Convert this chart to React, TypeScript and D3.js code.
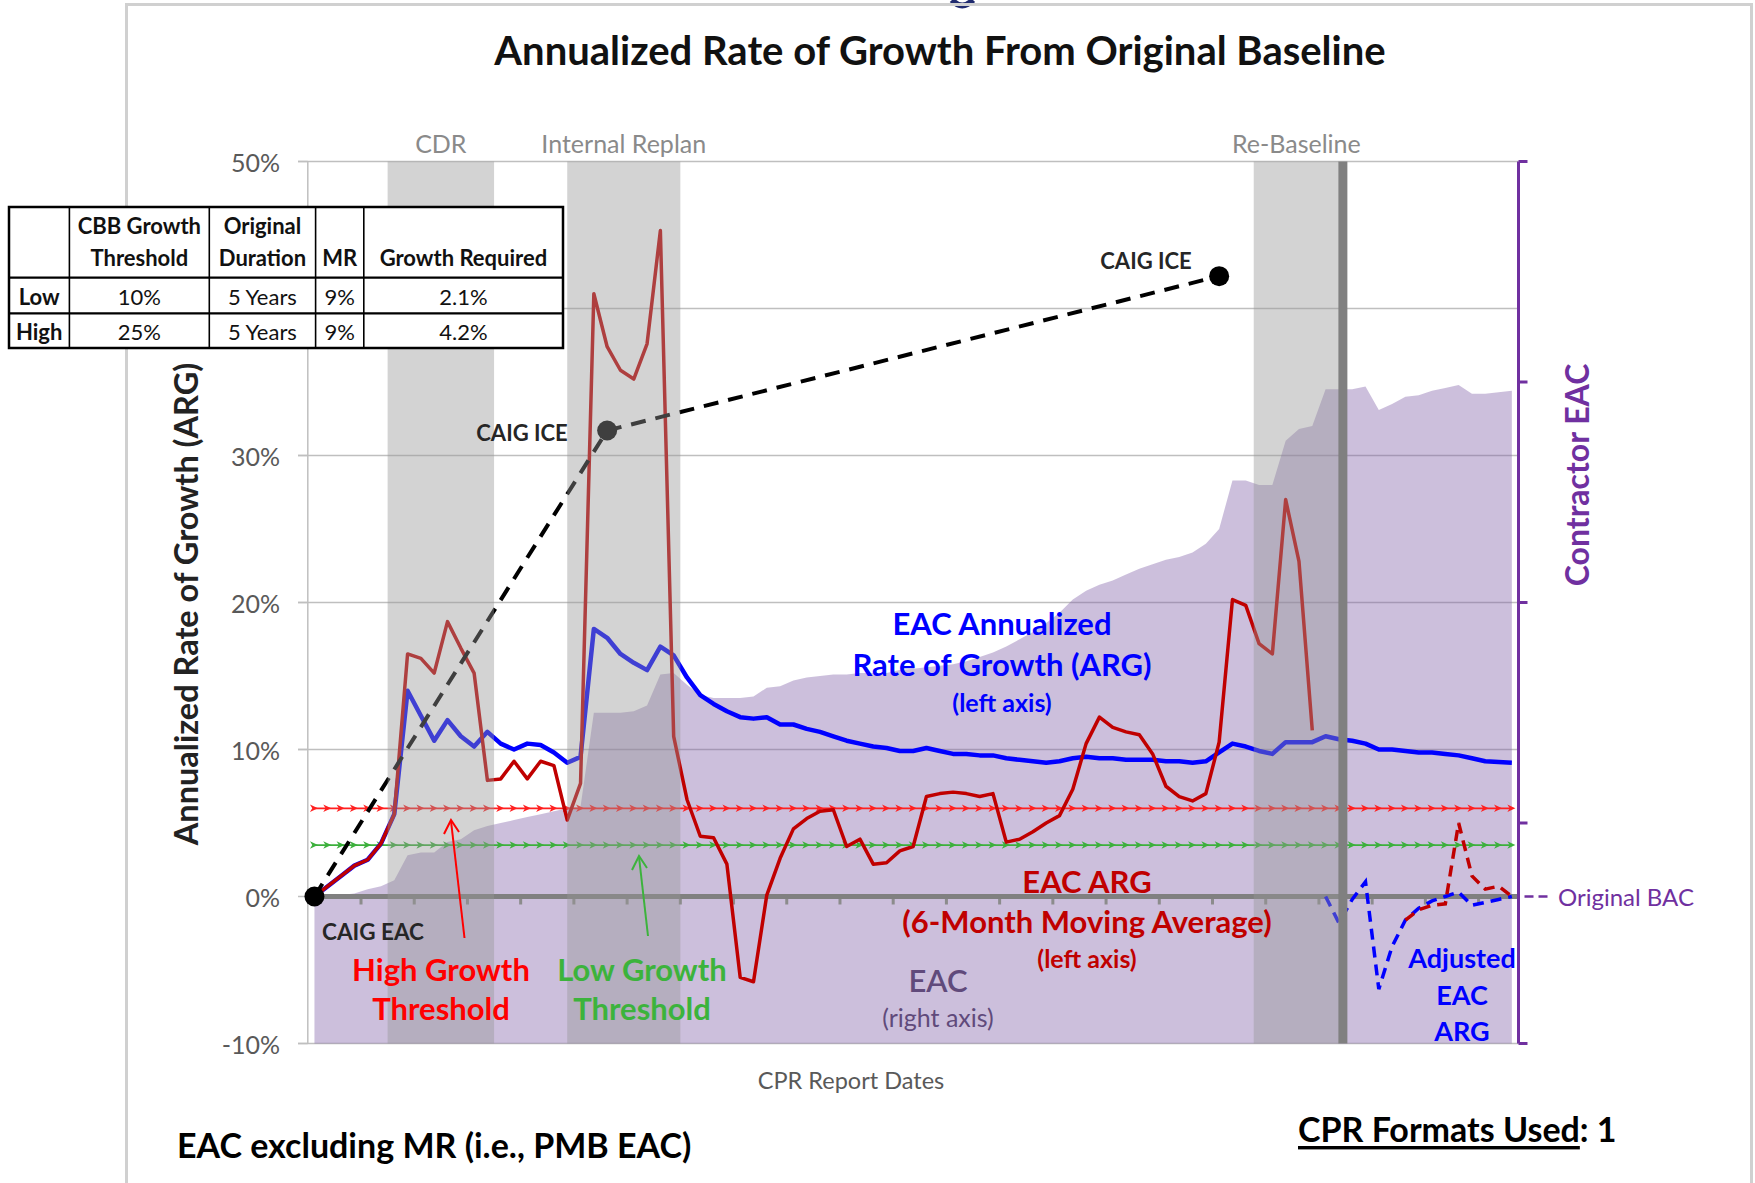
import React from 'react';
import * as d3 from 'd3';

// CPR report sequence (monthly reports, 91 in total)
const reports = d3.range(91);

// EAC Annualized Rate of Growth, % (left axis)
const eacArg = [
  0, 0.7, 1.4, 2.1, 2.5, 3.6, 5.6, 14.0, 12.3, 10.6,
  12.0, 10.9, 10.2, 11.2, 10.4, 10.0, 10.4, 10.3, 9.8, 9.1,
  9.5, 18.2, 17.6, 16.5, 15.9, 15.4, 17.0, 16.4, 14.9, 13.7,
  13.1, 12.6, 12.2, 12.1, 12.2, 11.7, 11.7, 11.4, 11.2, 10.9,
  10.6, 10.4, 10.2, 10.1, 9.9, 9.9, 10.1, 9.9, 9.7, 9.7,
  9.6, 9.6, 9.4, 9.3, 9.2, 9.1, 9.2, 9.4, 9.5, 9.4,
  9.4, 9.3, 9.3, 9.3, 9.2, 9.2, 9.1, 9.2, 9.8, 10.4,
  10.2, 9.9, 9.7, 10.5, 10.5, 10.5, 10.9, 10.7, 10.6, 10.4,
  10.0, 10.0, 9.9, 9.8, 9.8, 9.7, 9.6, 9.4, 9.2, 9.15,
  9.1,
];

// EAC ARG, 6-month moving average, % (left axis) — ends before re-baseline
const eacArg6mo = [
  0, 0.7, 1.4, 2.1, 2.5, 3.6, 5.6, 16.5, 16.2, 15.2,
  18.7, 16.9, 15.2, 7.9, 8.0, 9.2, 8.0, 9.2, 8.9, 5.2,
  7.7, 41.0, 37.4, 35.8, 35.2, 37.6, 45.3, 10.9, 6.6, 4.1,
  4.0, 2.2, -5.5, -5.8, 0.1, 2.6, 4.6, 5.3, 5.8, 5.9,
  3.4, 3.9, 2.2, 2.3, 3.1, 3.4, 6.8, 7.0, 7.1, 7.0,
  6.8, 7.0, 3.7, 3.9, 4.4, 5.0, 5.5, 7.3, 10.4, 12.2,
  11.5, 11.2, 11.0, 9.7, 7.5, 6.8, 6.5, 7.0, 10.5, 20.2,
  19.8, 17.2, 16.5, 27.0, 22.8, 11.3,
];

// Adjusted EAC ARG after re-baseline (dashed), starting at report 76
const adjustedStart = 76;
const adjustedArg = [0.0, -1.8, -0.2, 1.0, -6.3, -3.4, -1.6, -0.8, -0.3, 0.0, 0.3, -0.6, -0.4, -0.2, 0.0];
// Adjusted 6-month moving average (dashed red), starting at report 82
const adjusted6moStart = 82;
const adjustedArg6mo = [-1.6, -0.9, -0.6, -0.5, 5.0, 1.4, 0.5, 0.7, 0.0];

// Contractor EAC, $M (right axis)
const contractorEac = [
  500, 500.5, 501, 502, 505, 507, 511, 528, 530, 530,
  537, 539, 545, 548, 550, 552, 554, 556, 558, 560,
  561, 625, 625, 625, 626, 630, 651, 652, 644, 637,
  635, 635, 635, 636, 642, 643, 647, 649, 650, 651,
  651, 652, 652, 652, 654, 655, 656, 657, 658, 660,
  663, 666, 670, 675, 680, 686, 693, 702, 708, 712,
  715, 719, 723, 726, 729, 731, 734, 740, 750, 783,
  783, 780, 780, 810, 818, 820, 845, 845, 845, 847,
  831, 835, 840, 841, 844, 846, 848, 842, 842, 843,
  844,
];
const originalBac = 500;

// CAIG estimates
const caigAt = [0, 22, 68];
const caigArg = [0, 31.7, 42.2];
const caigNames = ['CAIG EAC', 'CAIG ICE', 'CAIG ICE'];

const highThreshold = 6.0;
const lowThreshold = 3.5;

const leftTicks = [-10, 0, 10, 20, 30, 40, 50];
// the 40% label sits under the table in the original, so it is not printed
const leftTickLabels = [-10, 0, 10, 20, 30, 50];
const rightTicks = [400, 550, 700, 850, 1000];

const eventNames = ['CDR', 'Internal Replan', 'Re-Baseline'];
const eventFrom = [5.5, 19.0, 70.6];
const eventTo = [13.5, 27.5, 77.0];
const rebaselineAt = 77.3;

const tableHead1 = ['', 'CBB Growth', 'Original', '', ''];
const tableHead2 = ['', 'Threshold', 'Duration', 'MR', 'Growth Required'];
const tableRows = [
  ['Low', '10%', '5 Years', '9%', '2.1%'],
  ['High', '25%', '5 Years', '9%', '4.2%'],
];

const FONT = 'Lato, "Open Sans", sans-serif';

const App = () => {
  const W = 1755;
  const H = 1183;
  const left = 307.8;
  const right = 1518.5;
  const top = 161.5;
  const bottom = 1043.5;

  const x = d3.scaleLinear().domain([-0.5, reports.length - 0.5]).range([left, right]);
  const y = d3.scaleLinear().domain([-10, 50]).range([bottom, top]);
  const yR = d3.scaleLinear().domain([400, 1000]).range([bottom, top]);

  const area = d3
    .area<number>()
    .x((d, i) => x(i))
    .y0(bottom)
    .y1((d) => yR(d));

  const line = d3
    .line<number>()
    .x((d, i) => x(i))
    .y((d) => y(d));

  const lineFrom = (start: number) =>
    d3
      .line<number>()
      .x((d, i) => x(start + i))
      .y((d) => y(d));

  const caigLine = d3
    .line<number>()
    .x((d, i) => x(caigAt[i]))
    .y((d) => y(d));

  const xTicks = d3.range(4, reports.length, 4).map((k) => x(k - 0.5));

  const marker = 'M-4.5,-3.8 L3.5,0 L-4.5,3.8 L-2.2,0 Z';

  // table geometry
  const colX = [9, 69.4, 209.3, 315.6, 363.8, 563];
  const rowY = [207, 277.6, 313.4, 348];

  const bigAnno = { fontFamily: FONT, fontWeight: 700, fontSize: 31, textAnchor: 'middle' as const };
  const smallAnno = { fontFamily: FONT, fontWeight: 700, fontSize: 25, textAnchor: 'middle' as const };

  return (
    <svg width={W} height={H} style={{ position: 'absolute', left: 0, top: 0, background: '#fff' }}>
      <rect x={0} y={0} width={W} height={H} fill="#fff" />
      <path d="M952,0 Q962,11 973,0" fill="none" stroke="#1f2a6e" strokeWidth={6} />
      <rect x={126.5} y={4.5} width={1625} height={1200} fill="none" stroke="#d0d0d0" strokeWidth={3} />

      <text x={940} y={50} fontFamily={FONT} fontWeight={700} fontSize={40} textAnchor="middle" dominantBaseline="central" fill="#111">
        Annualized Rate of Growth From Original Baseline
      </text>

      {/* gridlines */}
      {leftTicks.filter((t) => t !== 0).map((t) => (
        <line key={t} x1={298} x2={right} y1={y(t)} y2={y(t)} stroke="#bfbfbf" strokeWidth={1.5} />
      ))}
      {leftTicks.map((t) => (
        <line key={'lt' + t} x1={298} x2={left} y1={y(t)} y2={y(t)} stroke="#bfbfbf" strokeWidth={1.5} />
      ))}
      <line x1={left} x2={left} y1={top} y2={bottom} stroke="#bfbfbf" strokeWidth={1.5} />

      {/* EAC area (right axis) */}
      <path d={area(contractorEac) || ''} fill="rgb(128,96,168)" fillOpacity={0.4} />

      {/* 0% axis */}
      {xTicks.map((tx, i) => (
        <line key={'xt' + i} x1={tx} x2={tx} y1={y(0)} y2={y(0) + 8} stroke="#8c8c8c" strokeWidth={3} />
      ))}
      <line x1={left} x2={right} y1={y(0)} y2={y(0)} stroke="#808080" strokeWidth={5} />

      {/* thresholds */}
      <line x1={x(0)} x2={x(reports.length - 1)} y1={y(highThreshold)} y2={y(highThreshold)} stroke="#ff2020" strokeWidth={1.8} />
      <line x1={x(0)} x2={x(reports.length - 1)} y1={y(lowThreshold)} y2={y(lowThreshold)} stroke="#3cb03c" strokeWidth={1.8} />
      {reports.map((r) => (
        <g key={'m' + r}>
          <path d={marker} transform={`translate(${x(r)},${y(highThreshold)})`} fill="#ff2020" />
          <path d={marker} transform={`translate(${x(r)},${y(lowThreshold)})`} fill="#3cb03c" />
        </g>
      ))}

      {/* series */}
      <path d={line(eacArg) || ''} fill="none" stroke="#0000ff" strokeWidth={4.5} strokeLinejoin="round" />
      <path d={line(eacArg6mo) || ''} fill="none" stroke="#c00000" strokeWidth={3.5} strokeLinejoin="round" />
      <path d={lineFrom(adjustedStart)(adjustedArg) || ''} fill="none" stroke="#0000ff" strokeWidth={3.5} strokeDasharray="11 7" />
      <path d={lineFrom(adjusted6moStart)(adjustedArg6mo) || ''} fill="none" stroke="#c00000" strokeWidth={3.5} strokeDasharray="11 7" />

      {/* CAIG estimates */}
      <path d={caigLine(caigArg) || ''} fill="none" stroke="#000" strokeWidth={4} strokeDasharray="15 10" />
      {caigArg.map((v, i) => (
        <circle key={'c' + i} cx={x(caigAt[i])} cy={y(v)} r={10} fill="#000" />
      ))}

      {/* event bands */}
      {eventNames.map((n, i) => (
        <g key={n}>
          <rect x={x(eventFrom[i])} y={top} width={x(eventTo[i]) - x(eventFrom[i])} height={bottom - top} fill="rgb(150,150,150)" fillOpacity={0.42} />
          <text x={(x(eventFrom[i]) + x(eventTo[i])) / 2} y={143} fontFamily={FONT} fontSize={25} fill="#8a8a8a" textAnchor="middle" dominantBaseline="central">
            {n}
          </text>
        </g>
      ))}
      <line x1={x(rebaselineAt)} x2={x(rebaselineAt)} y1={top} y2={bottom} stroke="#808080" strokeWidth={9} />

      {/* right axis */}
      <line x1={right} x2={right} y1={top} y2={bottom} stroke="#7030a0" strokeWidth={3} />
      {rightTicks.map((t) => (
        <line key={'rt' + t} x1={right} x2={right + 9} y1={yR(t)} y2={yR(t)} stroke="#7030a0" strokeWidth={3} />
      ))}
      <line x1={right + 6} x2={1552} y1={yR(originalBac)} y2={yR(originalBac)} stroke="#7030a0" strokeWidth={2.5} strokeDasharray="9 5" />
      <text x={1558} y={yR(originalBac)} fontFamily={FONT} fontSize={24} fill="#7030a0" dominantBaseline="central">
        Original BAC
      </text>
      <text transform={`translate(1576,475) rotate(-90)`} fontFamily={FONT} fontWeight={700} fontSize={32} fill="#7030a0" textAnchor="middle" dominantBaseline="central">
        Contractor EAC
      </text>

      {/* left axis labels */}
      {leftTickLabels.map((t) => (
        <text key={'ll' + t} x={280} y={y(t)} fontFamily={FONT} fontSize={25} fill="#595959" textAnchor="end" dominantBaseline="central">
          {`${t}%`}
        </text>
      ))}
      <text transform={`translate(185,604) rotate(-90)`} fontFamily={FONT} fontWeight={700} fontSize={32.5} fill="#222" textAnchor="middle" dominantBaseline="central">
        Annualized Rate of Growth (ARG)
      </text>
      <text x={851} y={1080} fontFamily={FONT} fontSize={23.5} fill="#595959" textAnchor="middle" dominantBaseline="central">
        CPR Report Dates
      </text>

      {/* CAIG labels */}
      <text x={373} y={931} fontFamily={FONT} fontWeight={700} fontSize={22.5} fill="#262626" textAnchor="middle" dominantBaseline="central">{caigNames[0]}</text>
      <text x={522} y={432} fontFamily={FONT} fontWeight={700} fontSize={22} fill="#262626" textAnchor="middle" dominantBaseline="central">{caigNames[1]}</text>
      <text x={1146} y={260} fontFamily={FONT} fontWeight={700} fontSize={22} fill="#262626" textAnchor="middle" dominantBaseline="central">{caigNames[2]}</text>

      {/* annotations */}
      <g fill="#0000ff" dominantBaseline="central">
        <text x={1002} y={623} {...bigAnno}>EAC Annualized</text>
        <text x={1002} y={664} {...bigAnno}>Rate of Growth (ARG)</text>
        <text x={1002} y={702} {...smallAnno}>(left axis)</text>
      </g>
      <g fill="#c00000" dominantBaseline="central">
        <text x={1087} y={881} {...bigAnno}>EAC ARG</text>
        <text x={1087} y={921} {...bigAnno}>(6-Month Moving Average)</text>
        <text x={1087} y={958} {...smallAnno}>(left axis)</text>
      </g>
      <g fill="#604a7b" dominantBaseline="central">
        <text x={938} y={980} {...bigAnno} fontWeight={600}>EAC</text>
        <text x={938} y={1017} {...smallAnno} fontWeight={400}>(right axis)</text>
      </g>
      <g fill="#ff0000" dominantBaseline="central">
        <text x={441} y={969} {...bigAnno}>High Growth</text>
        <text x={441} y={1008} {...bigAnno}>Threshold</text>
      </g>
      <g fill="#3cb33c" dominantBaseline="central">
        <text x={642} y={969} {...bigAnno}>Low Growth</text>
        <text x={642} y={1008} {...bigAnno}>Threshold</text>
      </g>
      <g fill="#0000ff" dominantBaseline="central">
        <text x={1462} y={957} {...bigAnno} fontSize={27}>Adjusted</text>
        <text x={1462} y={994} {...bigAnno} fontSize={27}>EAC</text>
        <text x={1462} y={1030} {...bigAnno} fontSize={27}>ARG</text>
      </g>
      <g fill="none" strokeWidth={2}>
        <line x1={464.5} y1={938} x2={451} y2={821} stroke="#ff0000" />
        <polyline points="444,834 451,820 459,832" stroke="#ff0000" />
        <line x1={648} y1={936} x2={639} y2={857} stroke="#3cb33c" />
        <polyline points="632,870 639,856 647,868" stroke="#3cb33c" />
      </g>

      {/* table */}
      <rect x={colX[0]} y={rowY[0]} width={colX[5] - colX[0]} height={rowY[3] - rowY[0]} fill="#fff" />
      {colX.slice(1, 5).map((cx) => (
        <line key={'cx' + cx} x1={cx} x2={cx} y1={rowY[0]} y2={rowY[3]} stroke="#000" strokeWidth={1.6} />
      ))}
      {rowY.slice(1, 3).map((ry) => (
        <line key={'ry' + ry} x1={colX[0]} x2={colX[5]} y1={ry} y2={ry} stroke="#000" strokeWidth={2.2} />
      ))}
      <rect x={colX[0]} y={rowY[0]} width={colX[5] - colX[0]} height={rowY[3] - rowY[0]} fill="none" stroke="#000" strokeWidth={2.5} />
      {tableHead1.map((h, i) => (
        <text key={'h1' + i} x={(colX[i] + colX[i + 1]) / 2} y={225} fontFamily={FONT} fontWeight={700} fontSize={22} textAnchor="middle" dominantBaseline="central" fill="#111">{h}</text>
      ))}
      {tableHead2.map((h, i) => (
        <text key={'h2' + i} x={(colX[i] + colX[i + 1]) / 2} y={257} fontFamily={FONT} fontWeight={700} fontSize={22} textAnchor="middle" dominantBaseline="central" fill="#111">{h}</text>
      ))}
      {tableRows.map((row, r) =>
        row.map((c, i) => (
          <text key={'t' + r + i} x={(colX[i] + colX[i + 1]) / 2} y={(rowY[r + 1] + rowY[r + 2]) / 2 + 1} fontFamily={FONT} fontWeight={i === 0 ? 700 : 400} fontSize={22} textAnchor="middle" dominantBaseline="central" fill="#111">{c}</text>
        ))
      )}

      {/* footer */}
      <text x={177} y={1144} fontFamily={FONT} fontWeight={700} fontSize={34} fill="#000" dominantBaseline="central">
        EAC excluding MR (i.e., PMB EAC)
      </text>
      <text x={1298} y={1128} fontFamily={FONT} fontWeight={700} fontSize={34} fill="#000" dominantBaseline="central">
        <tspan textDecoration="underline">CPR Formats Used</tspan>: 1
      </text>
    </svg>
  );
};

export default App;
